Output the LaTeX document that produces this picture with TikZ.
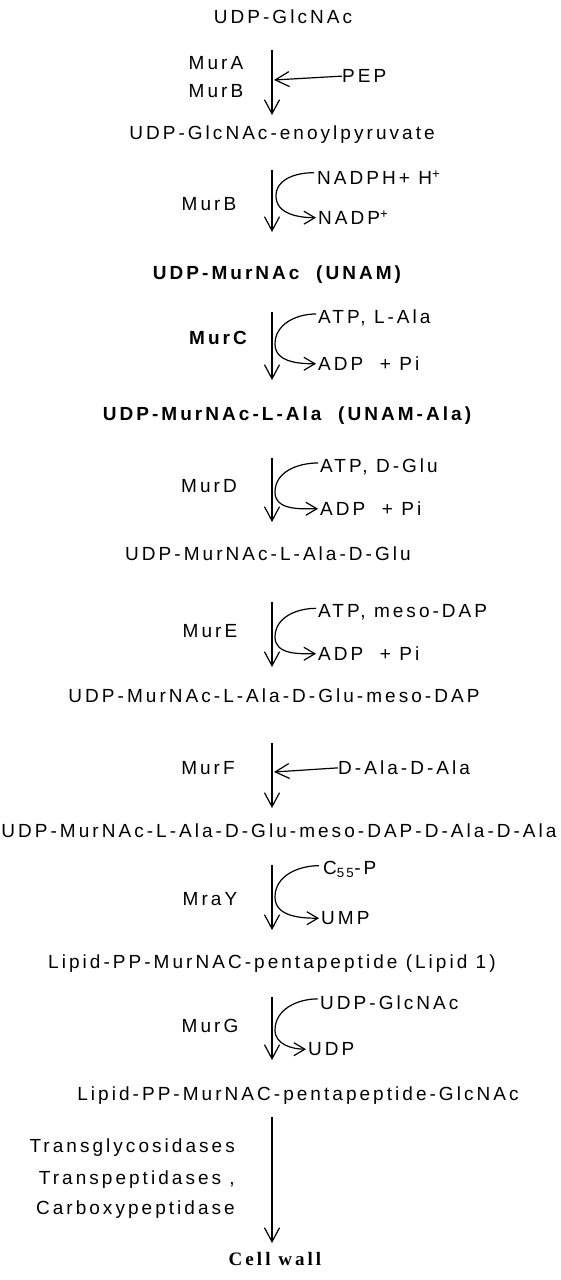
\documentclass[tikz,border=0pt]{standalone}
\usepackage{fontspec}
\setmainfont{Liberation Sans}[LetterSpace=16]
\newfontfamily\wallfont{Liberation Serif}[LetterSpace=16]
\usepackage{tikz}
\usetikzlibrary{arrows.meta,calc}
\newcommand\labsize{\fontsize{19}{22}\selectfont}

\begin{document}
\begin{tikzpicture}[x=1pt,y=-1pt,
  every node/.style={inner sep=0pt,font=\labsize},
  cmpd/.style={anchor=mid},
  boldcmpd/.style={anchor=mid,font=\labsize\bfseries},
  enz/.style={anchor=mid},
  cof/.style={anchor=mid west},
  flow/.style={line width=1.2pt,-{Straight Barb[length=14pt,width=15pt]}},
  side/.style={line width=1.2pt,shorten >=2pt,-{Straight Barb[length=11pt,width=13pt]}}]

\useasboundingbox (0,0) rectangle (560,1280);

% compounds
\node[cmpd] (glcnac) at (283,21) {UDP-GlcNAc};
\node[cmpd] (enol) at (282,137) {UDP-GlcNAc-enoylpyruvate};
\node[boldcmpd] (unam) at (277,277) {UDP-MurNAc\ \ (UNAM)};
\node[boldcmpd] (unamala) at (287,418) {UDP-MurNAc-L-Ala\ \ (UNAM-Ala)};
\node[cmpd] (glu) at (268,558) {UDP-MurNAc-L-Ala-D-Glu};
\node[cmpd] (dap) at (274,700) {UDP-MurNAc-L-Ala-D-Glu-meso-DAP};
\node[cmpd] (penta) at (279,835) {UDP-MurNAc-L-Ala-D-Glu-meso-DAP-D-Ala-D-Ala};
\node[cmpd] (lipid) at (272,966) {Lipid-PP-MurNAC-pentapeptide (Lipid 1)};
\node[cmpd] (lipidg) at (298,1098) {Lipid-PP-MurNAC-pentapeptide-GlcNAc};
\node[anchor=mid,font=\labsize\wallfont\bfseries] (wall) at (275,1263) {Cell wall};

% MurA / MurB
\coordinate (s1) at (272,50); \coordinate (e1) at (272,115);
\node[enz] (mura) at (216,67) {MurA};
\node[enz] (murb1) at (216,95) {MurB};
\node[cof] (pep) at (342,80) {PEP};
\coordinate (j1) at (274,80);
\draw[flow] (s1) -- (e1);
\draw[flow] (pep.west) -- (j1);

% MurB
\coordinate (s2) at (272,170); \coordinate (e2) at (272,232);
\node[enz] (murb2) at (209,208) {MurB};
\node[cof] (nadph) at (317,182) {NADPH+ H\textsuperscript{+}};
\node[cof] (nadp) at (318,222) {NADP\textsuperscript{+}};
\coordinate (j2) at (276,196);
\draw[flow] (s2) -- (e2);
\draw[side] ($(nadph.west)+(-3,-5)$) to[out=180,in=90] (j2) to[out=-90,in=180] (nadp.west);

% MurC
\coordinate (s3) at (272,312); \coordinate (e3) at (272,380);
\node[enz,font=\labsize\bfseries] (murc) at (218,342) {MurC};
\node[cof] (atp1) at (318,321) {ATP, L-Ala};
\node[cof] (adp1) at (318,368) {ADP\ \ + Pi};
\coordinate (j3) at (275,344);
\draw[flow] (s3) -- (e3);
\draw[side] ($(atp1.west)+(-2,-4)$) to[out=180,in=90] (j3) to[out=-90,in=180] (adp1.west);

% MurD
\coordinate (s4) at (272,458); \coordinate (e4) at (272,522);
\node[enz] (murd) at (209,490) {MurD};
\node[cof] (atp2) at (320,470) {ATP, D-Glu};
\node[cof] (adp2) at (320,513) {ADP\ \ + Pi};
\coordinate (j4) at (275,492);
\draw[flow] (s4) -- (e4);
\draw[side] ($(atp2.west)+(-2,-4)$) to[out=180,in=90] (j4) to[out=-90,in=180] (adp2.west);

% MurE
\coordinate (s5) at (272,602); \coordinate (e5) at (272,667);
\node[enz] (mure) at (210,635) {MurE};
\node[cof] (atp3) at (318,615) {ATP, meso-DAP};
\node[cof] (adp3) at (318,658) {ADP\ \ + Pi};
\coordinate (j5) at (275,637);
\draw[flow] (s5) -- (e5);
\draw[side] ($(atp3.west)+(-2,-4)$) to[out=180,in=90] (j5) to[out=-90,in=180] (adp3.west);

% MurF
\coordinate (s6) at (272,743); \coordinate (e6) at (272,808);
\node[enz] (murf) at (208,772) {MurF};
\node[cof] (dala) at (338,772) {D-Ala-D-Ala};
\coordinate (j6) at (274,772);
\draw[flow] (s6) -- (e6);
\draw[flow] (dala.west) -- (j6);

% MraY
\coordinate (s7) at (272,865); \coordinate (e7) at (272,930);
\node[enz] (mray) at (210,903) {MraY};
\node[cof] (c55p) at (323,872) {C\textsubscript{55}-P};
\node[cof] (ump) at (321,922) {UMP};
\coordinate (j7) at (275,897);
\draw[flow] (s7) -- (e7);
\draw[side] ($(c55p.west)+(-4,-4)$) to[out=180,in=90] (j7) to[out=-90,in=180] (ump.west);

% MurG
\coordinate (s8) at (272,997); \coordinate (e8) at (272,1060);
\node[enz] (murg) at (210,1030) {MurG};
\node[cof] (udpg) at (320,1007) {UDP-GlcNAc};
\node[cof] (udp) at (308,1053) {UDP};
\coordinate (j8) at (275,1030);
\draw[flow] (s8) -- (e8);
\draw[side] ($(udpg.west)+(-2,-4)$) to[out=180,in=90] (j8) to[out=-90,in=180] (udp.west);

% last step
\coordinate (s9) at (272,1117); \coordinate (e9) at (272,1243);
\node[anchor=mid east] (tgly) at (235,1150) {Transglycosidases};
\node[anchor=mid east] (tpep) at (235,1182) {Transpeptidases ,};
\node[anchor=mid east] (cpep) at (235,1212) {Carboxypeptidase};
\draw[flow] (s9) -- (e9);

\end{tikzpicture}
\end{document}
